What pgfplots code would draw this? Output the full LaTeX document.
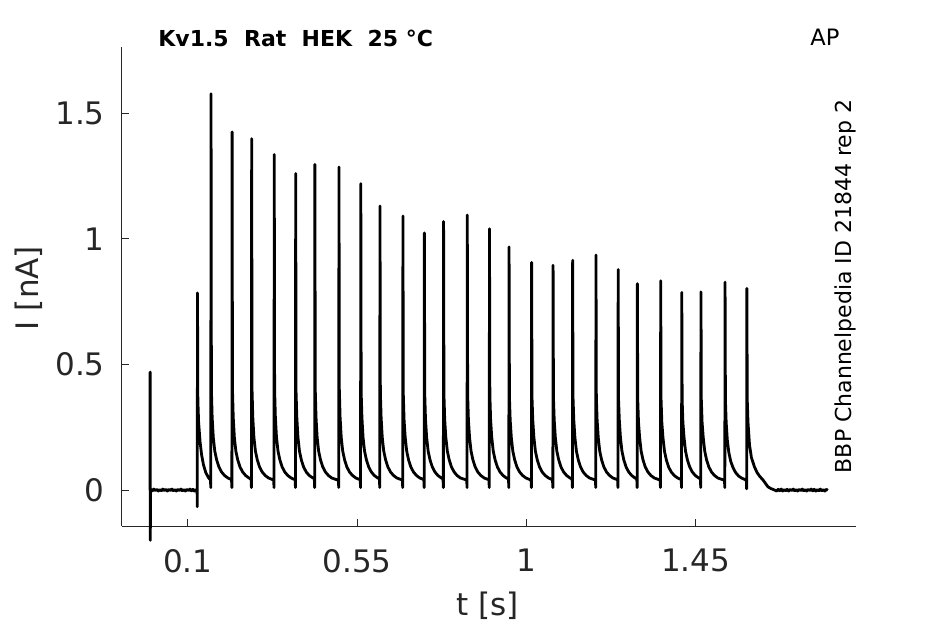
\documentclass[border=0pt]{standalone}
\usepackage{fontspec}
\setmainfont{DejaVu Sans}
\usepackage{pgfplots}
\pgfplotsset{compat=1.18}
\definecolor{axisgray}{HTML}{262626}
\newcommand{\ticklabfont}{\fontsize{15.5bp}{18bp}\selectfont}
\begin{document}
\begin{tikzpicture}
\useasboundingbox (-61bp,-49bp) rectangle (411.5bp,263bp);
\begin{axis}[
  scale only axis, width=367bp, height=239.5bp,
  at={(0,0)}, anchor=south west,
  xmin=-0.0746, xmax=1.876, ymin=-0.143, ymax=1.764,
  axis x line*=bottom, axis y line*=left,
  axis line style={-, draw=axisgray, line width=0.5bp},
  xtick={0.1,0.55,1,1.45}, xticklabels={0.1,0.55,1,1.45},
  ytick={0,0.5,1,1.5}, yticklabels={0,0.5,1,1.5},
  xtick pos=bottom, ytick pos=left,
  tick align=inside, major tick length=3.5bp,
  tick style={draw=axisgray, line width=0.5bp},
  tick label style={font=\ticklabfont, text=axisgray, inner sep=0pt},
  xticklabel style={anchor=north, yshift=-11.5bp},
  yticklabel style={anchor=east, xshift=-8.5bp},
  clip=false,
]
\addplot[black, line width=1.4bp, line join=round, mark=none] coordinates {
(0.0000,0.000) (0.0002,0.470) (0.0006,-0.200) (0.0012,0.002)
(0.002,0.003) (0.006,-0.003) (0.010,0.004) (0.014,-0.002) (0.018,0.003) (0.022,-0.004)
(0.026,0.002) (0.030,-0.003) (0.034,0.004) (0.038,-0.002) (0.042,0.003) (0.046,-0.004)
(0.050,0.003) (0.054,-0.002) (0.058,0.004) (0.062,-0.003) (0.066,0.002) (0.070,-0.004)
(0.074,0.003) (0.078,-0.002) (0.082,0.004) (0.086,-0.003) (0.090,0.002) (0.094,-0.004)
(0.098,0.003) (0.102,-0.002) (0.106,0.004) (0.110,-0.003) (0.114,0.003) (0.118,-0.004)
(0.122,0.002) (0.125,-0.001)
(0.1255,-0.066) (0.126,0.785)
(0.127,0.36) (0.129,0.27) (0.133,0.19) (0.137,0.14) (0.142,0.10) (0.148,0.07) (0.155,0.05) (0.1605,0.04) (0.1614,0.01)
(0.162,1.578)
(0.163,0.40) (0.165,0.29) (0.168,0.21) (0.172,0.155) (0.177,0.12) (0.183,0.092) (0.190,0.072) (0.198,0.058) (0.207,0.048) (0.2165,0.042) (0.2174,0.01)
(0.218,1.426)
(0.219,0.40) (0.221,0.29) (0.224,0.21) (0.228,0.155) (0.233,0.12) (0.239,0.092) (0.246,0.072) (0.254,0.058) (0.263,0.048) (0.2685,0.043) (0.2694,0.01)
(0.270,1.399)
(0.271,0.40) (0.273,0.29) (0.276,0.21) (0.280,0.155) (0.285,0.12) (0.291,0.092) (0.298,0.072) (0.306,0.058) (0.315,0.048) (0.3285,0.040) (0.3294,0.01)
(0.330,1.336)
(0.331,0.40) (0.333,0.29) (0.336,0.21) (0.340,0.155) (0.345,0.12) (0.351,0.092) (0.358,0.072) (0.366,0.058) (0.375,0.048) (0.3855,0.041) (0.3864,0.01)
(0.387,1.260)
(0.388,0.39) (0.390,0.29) (0.393,0.21) (0.397,0.155) (0.402,0.12) (0.408,0.092) (0.415,0.072) (0.423,0.058) (0.432,0.049) (0.4365,0.046) (0.4374,0.01)
(0.438,1.297)
(0.439,0.40) (0.441,0.29) (0.444,0.21) (0.448,0.155) (0.453,0.12) (0.459,0.092) (0.466,0.072) (0.474,0.058) (0.483,0.048) (0.5005,0.039) (0.5014,0.01)
(0.502,1.286)
(0.503,0.40) (0.505,0.29) (0.508,0.21) (0.512,0.155) (0.517,0.12) (0.523,0.092) (0.530,0.072) (0.538,0.058) (0.547,0.048) (0.5585,0.041) (0.5594,0.01)
(0.560,1.220)
(0.561,0.39) (0.563,0.29) (0.566,0.21) (0.570,0.155) (0.575,0.12) (0.581,0.092) (0.588,0.072) (0.596,0.058) (0.605,0.048) (0.6095,0.045) (0.6104,0.01)
(0.611,1.131)
(0.612,0.39) (0.614,0.29) (0.617,0.21) (0.621,0.155) (0.626,0.12) (0.632,0.092) (0.639,0.072) (0.647,0.058) (0.656,0.048) (0.6705,0.040) (0.6714,0.01)
(0.672,1.091)
(0.673,0.38) (0.675,0.28) (0.678,0.21) (0.682,0.155) (0.687,0.12) (0.693,0.092) (0.700,0.072) (0.708,0.058) (0.717,0.048) (0.7275,0.042) (0.7284,0.01)
(0.729,1.024)
(0.730,0.38) (0.732,0.28) (0.735,0.21) (0.739,0.155) (0.744,0.12) (0.750,0.092) (0.757,0.072) (0.765,0.058) (0.774,0.048) (0.7785,0.045) (0.7794,0.01)
(0.780,1.069)
(0.781,0.38) (0.783,0.28) (0.786,0.21) (0.790,0.155) (0.795,0.12) (0.801,0.092) (0.808,0.072) (0.816,0.058) (0.825,0.048) (0.8415,0.040) (0.8424,0.01)
(0.843,1.095)
(0.844,0.38) (0.846,0.28) (0.849,0.21) (0.853,0.155) (0.858,0.12) (0.864,0.092) (0.871,0.072) (0.879,0.058) (0.888,0.048) (0.9005,0.041) (0.9014,0.01)
(0.902,1.040)
(0.903,0.38) (0.905,0.28) (0.908,0.21) (0.912,0.155) (0.917,0.12) (0.923,0.092) (0.930,0.072) (0.938,0.058) (0.947,0.048) (0.9525,0.044) (0.9534,0.01)
(0.954,0.968)
(0.955,0.37) (0.957,0.28) (0.960,0.21) (0.964,0.155) (0.969,0.12) (0.975,0.092) (0.982,0.072) (0.990,0.058) (0.999,0.048) (1.0125,0.040) (1.0134,0.01)
(1.014,0.906)
(1.015,0.37) (1.017,0.28) (1.020,0.21) (1.024,0.155) (1.029,0.12) (1.035,0.092) (1.042,0.072) (1.050,0.058) (1.059,0.048) (1.0695,0.041) (1.0704,0.01)
(1.071,0.895)
(1.072,0.37) (1.074,0.28) (1.077,0.21) (1.081,0.155) (1.086,0.12) (1.092,0.092) (1.099,0.072) (1.107,0.058) (1.116,0.048) (1.1215,0.044) (1.1224,0.01)
(1.123,0.915)
(1.124,0.37) (1.126,0.28) (1.129,0.21) (1.133,0.155) (1.138,0.12) (1.144,0.092) (1.151,0.072) (1.159,0.058) (1.168,0.048) (1.1835,0.040) (1.1844,0.01)
(1.185,0.936)
(1.186,0.37) (1.188,0.28) (1.191,0.21) (1.195,0.155) (1.200,0.12) (1.206,0.092) (1.213,0.072) (1.221,0.058) (1.230,0.048) (1.2425,0.041) (1.2434,0.01)
(1.244,0.878)
(1.245,0.36) (1.247,0.28) (1.250,0.21) (1.254,0.155) (1.259,0.12) (1.265,0.092) (1.272,0.072) (1.280,0.058) (1.289,0.048) (1.2935,0.045) (1.2944,0.01)
(1.295,0.822)
(1.296,0.36) (1.298,0.27) (1.301,0.21) (1.305,0.155) (1.310,0.12) (1.316,0.092) (1.323,0.072) (1.331,0.058) (1.340,0.048) (1.3555,0.040) (1.3564,0.01)
(1.357,0.833)
(1.358,0.36) (1.360,0.27) (1.363,0.21) (1.367,0.155) (1.372,0.12) (1.378,0.092) (1.385,0.072) (1.393,0.058) (1.402,0.048) (1.4115,0.042) (1.4124,0.01)
(1.413,0.787)
(1.414,0.36) (1.416,0.27) (1.419,0.21) (1.423,0.155) (1.428,0.12) (1.434,0.092) (1.441,0.072) (1.449,0.058) (1.458,0.048) (1.4625,0.045) (1.4634,0.01)
(1.464,0.789)
(1.465,0.36) (1.467,0.27) (1.470,0.21) (1.474,0.155) (1.479,0.12) (1.485,0.092) (1.492,0.072) (1.500,0.058) (1.509,0.048) (1.5265,0.039) (1.5274,0.01)
(1.528,0.828)
(1.529,0.36) (1.531,0.27) (1.534,0.20) (1.538,0.15) (1.543,0.115) (1.549,0.09) (1.556,0.07) (1.564,0.056) (1.573,0.047) (1.5845,0.040) (1.5854,0.005)
(1.586,0.803)
(1.587,0.36) (1.589,0.27) (1.593,0.18) (1.598,0.13) (1.606,0.093) (1.613,0.07) (1.620,0.055) (1.629,0.04) (1.642,0.013) (1.650,0.006) (1.660,0.000)
(1.665,-0.004) (1.669,0.003) (1.673,-0.003) (1.677,0.004) (1.681,-0.004) (1.685,0.002)
(1.689,-0.003) (1.693,0.003) (1.697,-0.004) (1.701,0.003) (1.705,-0.002) (1.709,0.004)
(1.713,-0.003) (1.717,0.002) (1.721,-0.004) (1.725,0.003) (1.729,-0.002) (1.733,0.004)
(1.737,-0.003) (1.741,0.002) (1.745,-0.004) (1.749,0.003) (1.753,-0.002) (1.757,0.004)
(1.761,-0.003) (1.765,0.003) (1.769,-0.004) (1.773,0.002) (1.777,-0.003) (1.781,0.004)
(1.785,-0.003) (1.789,0.002) (1.793,-0.004) (1.797,0.003) (1.801,-0.001)
};
\end{axis}
\node[anchor=base west, inner sep=0pt, font=\fontsize{11bp}{13bp}\selectfont\bfseries] at (18bp,239.6bp) {Kv1.5\ \ Rat\ \ HEK\ \ 25 °C};
\node[anchor=base, inner sep=0pt, font=\fontsize{11.3bp}{13bp}\selectfont] at (351.5bp,240bp) {AP};
\node[anchor=base, inner sep=0pt, rotate=90, font=\fontsize{11bp}{13bp}\selectfont] at (364.5bp,119.75bp) {BBP Channelpedia ID 21844 rep 2};
\node[anchor=base, inner sep=0pt, text=axisgray, font=\fontsize{15.5bp}{18bp}\selectfont] at (182.75bp,-44.5bp) {t [s]};
\node[anchor=base, inner sep=0pt, rotate=90, text=axisgray, font=\fontsize{15.5bp}{18bp}\selectfont] at (-41.85bp,119bp) {I [nA]};
\end{tikzpicture}
\end{document}
